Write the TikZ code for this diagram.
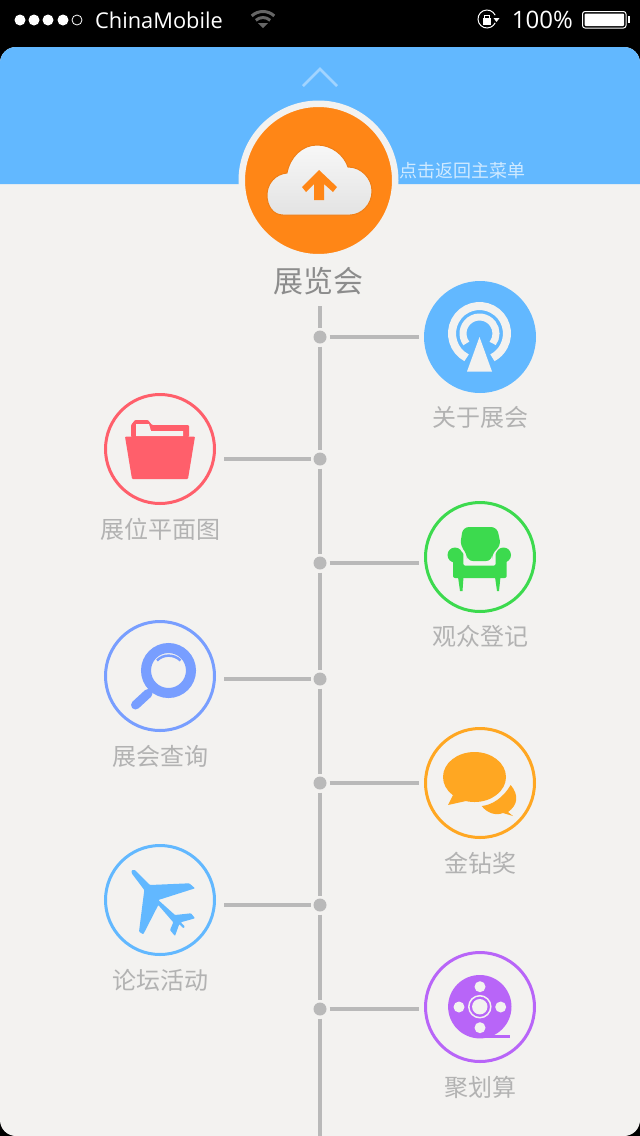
\documentclass[tikz,border=0pt]{standalone}
\usepackage{fontspec}
\setmainfont{Open Sans}
\newfontfamily\cjk{Noto Sans CJK SC}
\usetikzlibrary{shapes.geometric, arrows}
\definecolor{cardbg}{HTML}{F3F2F0}
\definecolor{skyblue}{HTML}{62B8FF}
\definecolor{expoorange}{HTML}{FF8616}
\definecolor{linegray}{HTML}{B9B9B9}
\definecolor{textgray}{HTML}{B2B2B2}
\definecolor{planred}{HTML}{FF5F6B}
\definecolor{sofagreen}{HTML}{3CDA4E}
\definecolor{lensblue}{HTML}{789EFF}
\definecolor{talkamber}{HTML}{FFA722}
\definecolor{reelpurple}{HTML}{B865F8}
\tikzstyle{dot} = [circle, fill=linegray, inner sep=0pt, minimum size=13pt, outer sep=3pt]
\tikzstyle{line} = [draw=linegray, line width=3.5pt]
\tikzstyle{iconleft} = [circle, draw, line width=3pt, inner sep=0pt, minimum size=109pt, outer sep=9.5pt]
\tikzstyle{iconright} = [circle, draw, line width=3pt, inner sep=0pt, minimum size=109pt, outer sep=6.5pt]
\tikzstyle{caption} = [font=\cjk\fontsize{24}{24}\selectfont, text=textgray, inner sep=0pt, node distance=80pt]
\tikzstyle{status} = [text=white, inner sep=0pt]

\begin{document}
\begin{tikzpicture}[node distance=160pt, x=1pt, y=-1pt]
    \useasboundingbox (0,0) rectangle (640,1136);
    % Screen and card
    \fill [black] (0,0) rectangle (640,1136);
    \fill [cardbg, rounded corners=16pt] (0,47) rectangle (640,1136);
    \fill [skyblue, rounded corners=16pt] (0,184) -- (0,47) -- (640,47) -- (640,184);
    \draw [color=skyblue!60!white, line width=2.5pt] (303,86) -- (320,69) -- (337,86);
    % Status bar
    \fill [white] (20,20) circle (5.5) (34,20) circle (5.5) (48,20) circle (5.5) (63,20) circle (5.5);
    \draw [white, line width=0.8pt] (77,20) circle (5);
    \node [status, anchor=west, font=\fontsize{21.8}{24}\selectfont] (carrier) at (95,20) {ChinaMobile};
    \node [status, anchor=east, font=\fontsize{24}{24}\selectfont] (battery) at (573,20) {100\%};
    \draw [black!60, line width=3pt] (263,28) ++(47:16.5pt) arc (47:133:16.5pt);
    \draw [black!60, line width=3pt] (263,28) ++(47:10.5pt) arc (47:133:10.5pt);
    \fill [black!60] (263,28) -- (258,23) -- (268,23) -- cycle;
    \draw [white, line width=1pt] (487,19) ++(25:9pt) arc (25:335:9pt);
    \fill [white] (493.5,18) -- (499.5,18) -- (496.5,22) -- cycle;
    \fill [white] (483,18) rectangle (491,24.5);
    \draw [white, line width=1pt] (484.5,18) -- (484.5,15.5) -- (489.5,15.5) -- (489.5,18);
    \draw [white, line width=1pt, rounded corners=2.5pt] (582.5,11.5) rectangle (626,28);
    \fill [white, rounded corners=1pt] (584.5,13.5) rectangle (624,26);
    \fill [white] (627.5,16) rectangle (630,23);
    % Place nodes
    \node [circle, fill=expoorange, draw=cardbg, line width=6.5pt, inner sep=0pt, minimum size=153.5pt] (expo) at (318.5,180.5) {};
    \node [caption, below of=expo, node distance=100.5pt, font=\cjk\fontsize{30}{30}\selectfont, text=black!45] (expolabel) {展览会};
    \node [anchor=west, inner sep=0pt, font=\cjk\fontsize{18}{18}\selectfont, text=skyblue!30!white] (hint) at (399.5,171) {点击返回主菜单};
    \coordinate (top) at (320,306);
    \coordinate (bottom) at (320,1136);
    \node [dot] (dot1) at (320,337) {};
    \node [dot] (dot2) at (320,459) {};
    \node [dot] (dot3) at (320,563) {};
    \node [dot] (dot4) at (320,679) {};
    \node [dot] (dot5) at (320,783) {};
    \node [dot] (dot6) at (320,905) {};
    \node [dot] (dot7) at (320,1009) {};
    \node [circle, fill=skyblue, inner sep=0pt, minimum size=112pt, outer sep=5pt, right of=dot1] (about) {};
    \node [iconleft, draw=planred, left of=dot2, yshift=10pt] (plan) {};
    \node [iconright, draw=sofagreen, right of=dot3, yshift=6pt] (visitor) {};
    \node [iconleft, draw=lensblue, left of=dot4, yshift=3pt] (search) {};
    \node [iconright, draw=talkamber, right of=dot5] (award) {};
    \node [iconleft, draw=skyblue, left of=dot6, yshift=5pt] (forum) {};
    \node [iconright, draw=reelpurple, right of=dot7, yshift=2pt] (deal) {};
    \node [caption, below of=about] (aboutlabel) {关于展会};
    \node [caption, below of=plan] (planlabel) {展位平面图};
    \node [caption, below of=visitor, node distance=79pt] (visitorlabel) {观众登记};
    \node [caption, below of=search] (searchlabel) {展会查询};
    \node [caption, below of=award] (awardlabel) {金钻奖};
    \node [caption, below of=forum] (forumlabel) {论坛活动};
    \node [caption, below of=deal] (deallabel) {聚划算};
    % Draw edges
    \path [line] (top) -- (dot1) -- (dot2) -- (dot3) -- (dot4) -- (dot5) -- (dot6) -- (dot7) -- (bottom);
    \path [line] (dot1) -- (dot1 -| about.west);
    \path [line] (dot2) -- (dot2 -| plan.east);
    \path [line] (dot3) -- (dot3 -| visitor.west);
    \path [line] (dot4) -- (dot4 -| search.east);
    \path [line] (dot5) -- (dot5 -| award.west);
    \path [line] (dot6) -- (dot6 -| forum.east);
    \path [line] (dot7) -- (dot7 -| deal.west);
    % Cloud icon
    \path [draw=black!6!expoorange, line width=1pt, top color=white!97!black, bottom color=white!89!black]
        (283,215) .. controls (273,215) and (267,206) .. (267,195)
        .. controls (267,184) and (275,174) .. (287,173)
        .. controls (290,157) and (302,145) .. (317,145)
        .. controls (332,145) and (344,155) .. (348,167)
        .. controls (362,167) and (372,179) .. (372,191)
        .. controls (372,205) and (361,215) .. (350,215) -- cycle;
    \fill [expoorange] (319,170) -- (337,187) -- (333,192) -- (324,184) -- (324,200) -- (314,200) -- (314,184) -- (306,192) -- (302,187) -- cycle;
    % Antenna icon
    \draw [cardbg, line width=8pt] (479.5,333.5) ++(-118:27.5pt) arc (-118:-422:27.5pt);
    \draw [cardbg, line width=7pt] (479.5,333.5) ++(-143:16.5pt) arc (-143:-397:16.5pt);
    \fill [skyblue] (479.5,331) -- (463,375) -- (496,375) -- cycle;
    \fill [cardbg] (479.5,337) -- (467,371.5) -- (492,371.5) -- cycle;
    % Folder icon
    \fill [planred, rounded corners=1pt] (131,437) -- (131,425) -- (135,420) -- (148,420) -- (152,425) -- (189,425) -- (189,437) -- cycle;
    \fill [cardbg] (136,436) -- (136,424) -- (149,424) -- (151,431) -- (183,431) -- (183,436) -- cycle;
    \fill [planred, rounded corners=1pt] (125,436.5) -- (195,436.5) -- (188,479) -- (132,479) -- cycle;
    % Armchair icon
    \fill [sofagreen, rounded corners=6pt] (467,561) -- (467,553) -- (460,546) -- (463,527) -- (497,527) -- (501,546) -- (492,553) -- (492,561) -- cycle;
    \fill [sofagreen] (455,555) circle (7.5) (503.5,555) circle (7.5);
    \fill [sofagreen, rounded corners=2pt] (453,552) -- (463.3,552) -- (463.3,565.7) -- (495.7,565.7) -- (495.7,552) -- (506.7,552) -- (506.7,578) -- (453,578) -- cycle;
    \fill [sofagreen] (458,577) -- (463.5,577) -- (462.5,591) -- (460,591) -- cycle;
    \fill [sofagreen] (495,577) -- (500.5,577) -- (499,591) -- (497,591) -- cycle;
    % Magnifier icon
    \draw [lensblue, line width=10pt] (168.5,670.5) circle (22.5);
    \draw [lensblue, line width=2.5pt] (157,660.5) .. controls (163,654) and (174,654) .. (180.5,660.5);
    \draw [lensblue, line width=5pt] (153,688) -- (145,696);
    \draw [lensblue, line width=9pt, line cap=round] (148,693.5) -- (135.5,705);
    % Bubbles icon
    \fill [talkamber] (474.5,777) ellipse (31.5 and 25);
    \fill [talkamber] (453,795) -- (448,805) -- (466,801) -- cycle;
    \fill [talkamber] (510.7,785) .. controls (519,795) and (518,805) .. (508,812) -- (513,816) -- (503,813)
        .. controls (496,816) and (487,813) .. (481.7,806) .. controls (492,805) and (503,798) .. cycle;
    % Plane icon
    \fill [skyblue, rounded corners=0.8pt] (131.7,870) -- (135,870) -- (150,885) -- (189.3,883.3) -- (195,888.3) -- (158.3,900) -- (175,915)
        -- (191,913.3) -- (195,918.3) -- (180.7,922.3) -- (185,926.7) -- (183.3,928.3) -- (179.3,924) -- (175,936) -- (170,930) -- (173.3,922.3)
        -- (158.3,905) -- (143.3,934.3) -- (139,931.7) -- (144.3,890) -- (131.7,873.3) -- cycle;
    % Reel icon
    \fill [reelpurple] (479.8,1006.7) circle (31.7);
    \fill [reelpurple] (480,1034.8) rectangle (509.5,1038.4);
    \fill [cardbg] (480,986.7) circle (5.5) (459,1007) circle (5.5) (500.7,1007) circle (5.5) (480,1027.7) circle (5.5);
    \draw [cardbg, line width=1.5pt] (479.8,1006.7) circle (11);
    \fill [cardbg] (479.8,1006.7) circle (7.7);
\end{tikzpicture}
\end{document}
